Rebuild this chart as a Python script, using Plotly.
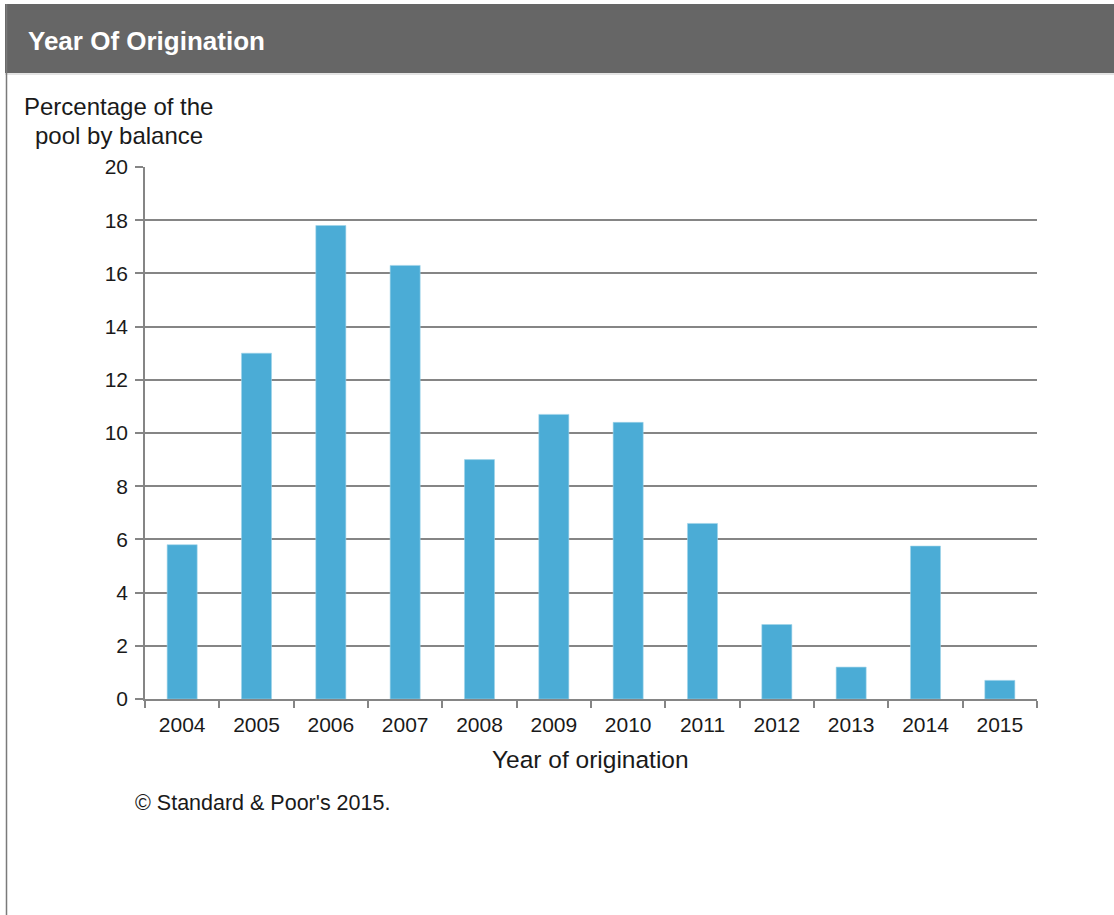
import plotly.graph_objects as go

# Share of pool balance by year of origination (%)
years = ["2004", "2005", "2006", "2007", "2008", "2009",
         "2010", "2011", "2012", "2013", "2014", "2015"]
pool_share = [5.8, 13.0, 17.8, 16.3, 9.0, 10.7, 10.4, 6.6, 2.8, 1.2, 5.75, 0.7]

y_ticks = [0, 2, 4, 6, 8, 10, 12, 14, 16, 18, 20]

chart_title = "Year Of Origination"
y_title_lines = ["Percentage of the", "pool by balance"]
x_title = "Year of origination"
source_note = "\u00a9 Standard & Poor's 2015."

W, H = 1114, 915
PLOT_L, PLOT_R, PLOT_T, PLOT_B = 145, 1037, 167, 699
FONT = "Liberation Sans, Arial, sans-serif"
GRID = "#858585"
BAR = "#4bacd6"
TEXT = "#1a1a1a"


def fx(px):
    """Pixel x -> paper fraction."""
    return (px - PLOT_L) / (PLOT_R - PLOT_L)


def fy(py):
    """Pixel y -> paper fraction."""
    return (PLOT_B - py) / (PLOT_B - PLOT_T)


fig = go.Figure(
    go.Bar(
        x=years,
        y=pool_share,
        marker=dict(color=BAR, line=dict(color="#9fd3ea", width=0.6)),
        hoverinfo="x+y",
    )
)

fig.update_layout(
    width=W,
    height=H,
    margin=dict(l=PLOT_L, r=W - PLOT_R, t=PLOT_T, b=H - PLOT_B, pad=0),
    paper_bgcolor="white",
    plot_bgcolor="white",
    showlegend=False,
    bargap=0.596,
    font=dict(family=FONT, color=TEXT, size=20),
    xaxis=dict(
        type="category",
        showgrid=False,
        showline=True,
        linecolor=GRID,
        linewidth=1.6,
        ticks="outside",
        tickson="boundaries",
        ticklen=7,
        tickcolor=GRID,
        tickwidth=1.5,
        ticklabelstandoff=6,
        tickfont=dict(size=21, color=TEXT),
        fixedrange=True,
    ),
    yaxis=dict(
        range=[0, 20],
        tickvals=y_ticks,
        showgrid=True,
        gridcolor=GRID,
        gridwidth=1.7,
        zeroline=False,
        showline=True,
        linecolor=GRID,
        linewidth=1.6,
        ticks="outside",
        ticklen=8,
        tickcolor=GRID,
        tickwidth=1.5,
        ticklabelstandoff=3,
        tickfont=dict(size=21, color=TEXT),
        fixedrange=True,
    ),
    shapes=[
        # dark header band
        dict(type="rect", xref="paper", yref="paper",
             x0=fx(5), x1=fx(W + 2), y0=fy(73), y1=fy(4),
             fillcolor="#666666", line=dict(width=0), layer="below"),
        # thin light rule under the header
        dict(type="line", xref="paper", yref="paper",
             x0=fx(5), x1=fx(W + 2), y0=fy(74), y1=fy(74),
             line=dict(color="#c8c8c8", width=1)),
        # left frame edge
        dict(type="line", xref="paper", yref="paper",
             x0=fx(6.5), x1=fx(6.5), y0=fy(4), y1=fy(H + 5),
             line=dict(color="#7a7a7a", width=1.5)),
    ],
    annotations=[
        dict(text=f"<b>{chart_title}</b>", xref="paper", yref="paper",
             x=fx(26), y=fy(41), xanchor="left", yanchor="middle",
             showarrow=False, font=dict(size=26, color="white", family=FONT)),
        dict(text=y_title_lines[0], xref="paper", yref="paper",
             x=fx(118), y=fy(106), xanchor="center", yanchor="middle",
             showarrow=False, font=dict(size=24, color=TEXT, family=FONT)),
        dict(text=y_title_lines[1], xref="paper", yref="paper",
             x=fx(119), y=fy(135), xanchor="center", yanchor="middle",
             showarrow=False, font=dict(size=24, color=TEXT, family=FONT)),
        dict(text=x_title, xref="paper", yref="paper",
             x=fx(590), y=fy(759), xanchor="center", yanchor="middle",
             showarrow=False, font=dict(size=24.5, color=TEXT, family=FONT)),
        dict(text=source_note, xref="paper", yref="paper",
             x=fx(133), y=fy(803), xanchor="left", yanchor="middle",
             showarrow=False, font=dict(size=21.5, color=TEXT, family=FONT)),
    ],
)

fig.write_html("out.html", config={"displayModeBar": False})
